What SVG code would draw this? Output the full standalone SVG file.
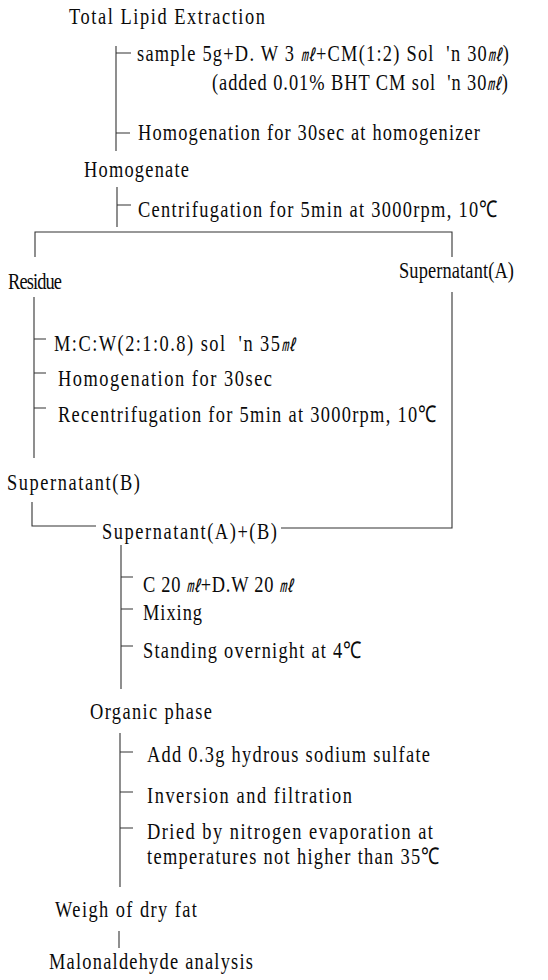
<svg xmlns="http://www.w3.org/2000/svg" width="548" height="980" viewBox="0 0 548 980">
<style>
text{font-family:"Liberation Serif",serif;font-size:23px;fill:#0a0a0a;white-space:pre}
.ml{font-family:"Noto Sans CJK JP",sans-serif;font-style:italic;font-size:17px}
.ln{stroke:#333;stroke-width:1.1;fill:none}
</style>
<rect width="548" height="980" fill="#fff"/>
<g id="connectors">
<path class="ln" d="M116,46V151M116,53H131M116,133H130"/>
<path class="ln" d="M117,187V227M117,205H131"/>
<path class="ln" d="M35,257V232H452V257"/>
<path class="ln" d="M34,297V458M34,339H46M34,373H46M34,408H46"/>
<path class="ln" d="M452,292V528H281"/>
<path class="ln" d="M32,502V526H96"/>
<path class="ln" d="M121,545V689M121,577H133M121,609H133M121,646H133"/>
<path class="ln" d="M120,733V887M120,752H133M120,792H133M120,828H133"/>
<path class="ln" d="M119,931V948"/>
</g>
<g id="n-total"><text transform="translate(69,24) scale(0.8,1)" textLength="245" lengthAdjust="spacing">Total Lipid Extraction</text></g>
<g id="s-sample"><text transform="translate(137,61) scale(0.8,1)" textLength="465" lengthAdjust="spacing">sample 5g+D. W 3 <tspan class="ml">㎖</tspan>+CM(1:2) Sol  'n 30<tspan class="ml">㎖</tspan>)</text></g>
<g id="s-added"><text transform="translate(212,90) scale(0.8,1)" textLength="370" lengthAdjust="spacing">(added 0.01% BHT CM sol  'n 30<tspan class="ml">㎖</tspan>)</text></g>
<g id="s-homog1"><text transform="translate(138,140) scale(0.8,1)" textLength="427.5" lengthAdjust="spacing">Homogenation for 30sec at homogenizer</text></g>
<g id="n-homogenate"><text transform="translate(84,177) scale(0.8,1)" textLength="131.25" lengthAdjust="spacing">Homogenate</text></g>
<g id="s-centri"><text transform="translate(138,217) scale(0.8,1)" textLength="450" lengthAdjust="spacing">Centrifugation for 5min at 3000rpm, 10℃</text></g>
<g id="n-supA"><text transform="translate(399,278) scale(0.8,1)" textLength="143.75" lengthAdjust="spacing">Supernatant(A)</text></g>
<g id="n-residue"><text transform="translate(8,289) scale(0.8,1)" textLength="67.5" lengthAdjust="spacing">Residue</text></g>
<g id="s-mcw"><text transform="translate(54,351) scale(0.8,1)" textLength="301.25" lengthAdjust="spacing">M:C:W(2:1:0.8) sol  'n 35<tspan class="ml">㎖</tspan></text></g>
<g id="s-homog2"><text transform="translate(58,386) scale(0.8,1)" textLength="267.5" lengthAdjust="spacing">Homogenation for 30sec</text></g>
<g id="s-recentri"><text transform="translate(58,422) scale(0.8,1)" textLength="473.75" lengthAdjust="spacing">Recentrifugation for 5min at 3000rpm, 10℃</text></g>
<g id="n-supB"><text transform="translate(7,490) scale(0.8,1)" textLength="166.25" lengthAdjust="spacing">Supernatant(B)</text></g>
<g id="n-supAB"><text transform="translate(102,539) scale(0.8,1)" textLength="218.75" lengthAdjust="spacing">Supernatant(A)+(B)</text></g>
<g id="s-c20"><text transform="translate(143,592) scale(0.8,1)" textLength="187.5" lengthAdjust="spacing">C 20 <tspan class="ml">㎖</tspan>+D.W 20 <tspan class="ml">㎖</tspan></text></g>
<g id="s-mixing"><text transform="translate(143,620) scale(0.8,1)" textLength="73.75" lengthAdjust="spacing">Mixing</text></g>
<g id="s-standing"><text transform="translate(143,658) scale(0.8,1)" textLength="273.75" lengthAdjust="spacing">Standing overnight at 4℃</text></g>
<g id="n-organic"><text transform="translate(90,719) scale(0.8,1)" textLength="152.5" lengthAdjust="spacing">Organic phase</text></g>
<g id="s-add"><text transform="translate(147,762) scale(0.8,1)" textLength="353.75" lengthAdjust="spacing">Add 0.3g hydrous sodium sulfate</text></g>
<g id="s-inversion"><text transform="translate(147,803) scale(0.8,1)" textLength="256.25" lengthAdjust="spacing">Inversion and filtration</text></g>
<g id="s-dried"><text transform="translate(147,839) scale(0.8,1)" textLength="357.5" lengthAdjust="spacing">Dried by nitrogen evaporation at</text><text transform="translate(147,864) scale(0.8,1)" textLength="366.25" lengthAdjust="spacing">temperatures not higher than 35℃</text></g>
<g id="n-weigh"><text transform="translate(55,917) scale(0.8,1)" textLength="177.5" lengthAdjust="spacing">Weigh of dry fat</text></g>
<g id="n-malon"><text transform="translate(49,969) scale(0.8,1)" textLength="255" lengthAdjust="spacing">Malonaldehyde analysis</text></g>
</svg>
